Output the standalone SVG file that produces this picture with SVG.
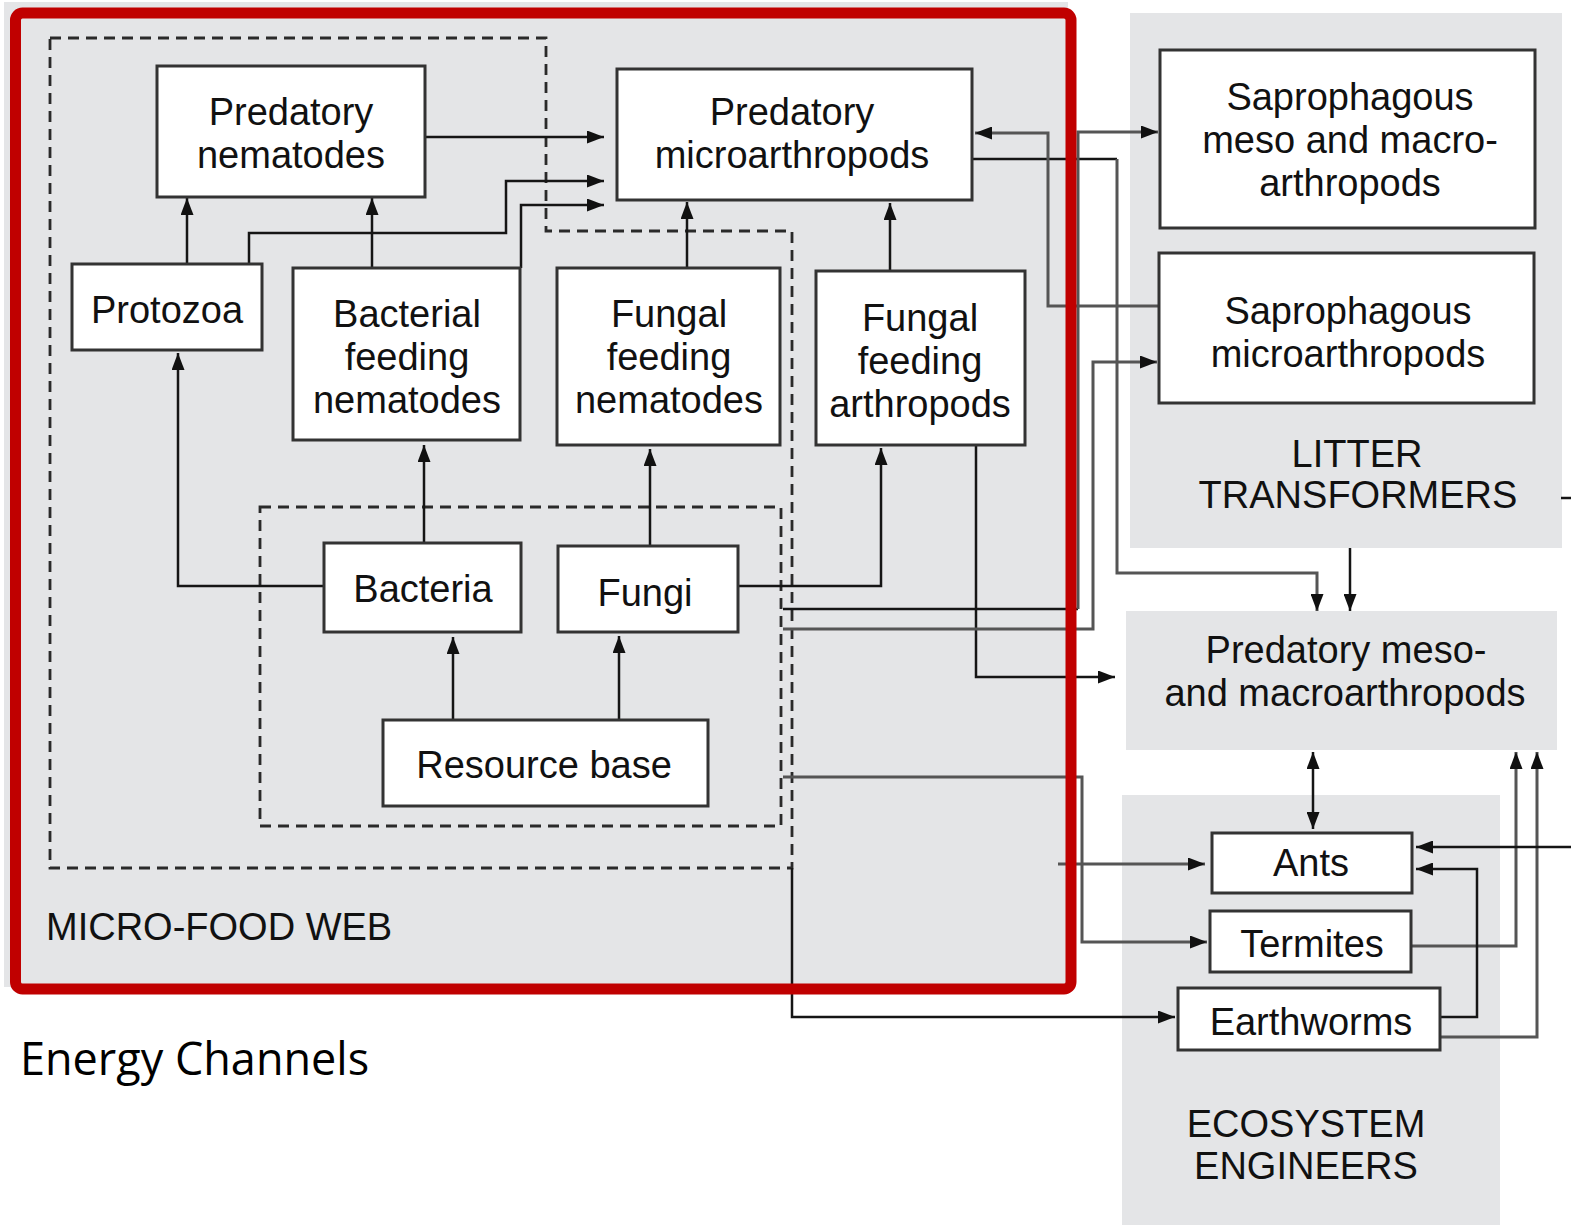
<svg xmlns="http://www.w3.org/2000/svg" width="1571" height="1225" viewBox="0 0 1571 1225">
<style>
.panel{fill:#e4e5e7;stroke:none}
.box{fill:#ffffff;stroke:#333;stroke-width:3}
.t{font-family:"Liberation Sans",Arial,sans-serif;font-size:38px;fill:#111;text-anchor:middle}
.lbl{font-family:"Liberation Sans",Arial,sans-serif;font-size:38px;fill:#111}
.dash{fill:none;stroke:#2a2a2a;stroke-width:2.8;stroke-dasharray:11 7}
.c{fill:none;stroke:#151515;stroke-width:2.5}
.g{fill:none;stroke:#555;stroke-width:3}
</style>
<defs>
<marker id="ah" markerWidth="17" markerHeight="13" refX="17" refY="6.5" orient="auto-start-reverse" markerUnits="userSpaceOnUse">
<path d="M0,0 L17,6.5 L0,13 z" fill="#111"/>
</marker>
</defs>
<rect width="1571" height="1225" fill="#ffffff"/>
<!-- panels -->
<rect class="panel" x="4" y="2" width="1064" height="985"/>
<g id="litter-transformers">
<rect class="panel" x="1130" y="13" width="432" height="535"/>
<text class="t" x="1357" y="467">LITTER</text>
<text class="t" x="1358" y="508">TRANSFORMERS</text>
</g>
<g id="ecosystem-engineers">
<rect class="panel" x="1122" y="795" width="378" height="430"/>
<text class="t" x="1306" y="1137">ECOSYSTEM</text>
<text class="t" x="1306" y="1179">ENGINEERS</text>
</g>
<g id="predatory-meso-macro">
<rect class="panel" x="1126" y="611" width="431" height="139"/>
<text class="t" x="1346" y="663">Predatory meso-</text>
<text class="t" x="1345" y="706">and macroarthropods</text>
</g>
<!-- dashed groupings -->
<g id="groupings">
<path class="dash" d="M50,38 H546 V231 H792 V868 H50 Z"/>
<rect class="dash" x="260" y="507" width="521" height="319"/>
</g>
<!-- connectors -->
<g id="connectors">
<path class="c" d="M425,137 H604" marker-end="url(#ah)"/>
<path class="c" d="M249,264 V233 H506 V181 H604" marker-end="url(#ah)"/>
<path class="c" d="M521,268 V205 H604" marker-end="url(#ah)"/>
<path class="c" d="M187,264 V198" marker-end="url(#ah)"/>
<path class="c" d="M372,268 V198" marker-end="url(#ah)"/>
<path class="c" d="M324,586 H178 V353" marker-end="url(#ah)"/>
<path class="c" d="M424,543 V445" marker-end="url(#ah)"/>
<path class="c" d="M650,546 V449" marker-end="url(#ah)"/>
<path class="c" d="M453,720 V637" marker-end="url(#ah)"/>
<path class="c" d="M619,720 V636" marker-end="url(#ah)"/>
<path class="c" d="M739,586 H881 V448" marker-end="url(#ah)"/>
<path class="c" d="M687,268 V202" marker-end="url(#ah)"/>
<path class="c" d="M890,271 V203" marker-end="url(#ah)"/>
<path class="c" d="M976,446 V677 H1115" marker-end="url(#ah)"/>
<path class="c" d="M973,159 H1117"/>
<path class="g" d="M1117,159 V573 H1317 V611" marker-end="url(#ah)"/>
<path class="g" d="M1160,306 H1048 V133 H975" marker-end="url(#ah)"/>
<path class="c" d="M783,609 H1078"/>
<path class="g" d="M1078,609 V132 H1158" marker-end="url(#ah)"/>
<path class="g" d="M783,629 H1093 V362 H1157" marker-end="url(#ah)"/>
<path class="c" d="M1350,548 V611" marker-end="url(#ah)"/>
<path class="c" d="M1561,498 H1571"/>
<path class="g" d="M783,777 H1082 V942 H1207" marker-end="url(#ah)"/>
<path class="g" d="M1058,864 H1205" marker-end="url(#ah)"/>
<path class="c" d="M792,868 V1017 H1175" marker-end="url(#ah)"/>
<path class="c" d="M1313,752 V829" marker-start="url(#ah)" marker-end="url(#ah)"/>
<path class="g" d="M1412,946 H1516 V752" marker-end="url(#ah)"/>
<path class="g" d="M1441,1037 H1537 V752" marker-end="url(#ah)"/>
<path class="c" d="M1441,1017 H1477 V869 H1416" marker-end="url(#ah)"/>
<path class="c" d="M1571,847 H1416" marker-end="url(#ah)"/>
</g>
<!-- nodes -->
<g id="predatory-nematodes">
<rect class="box" x="157" y="66" width="268" height="131"/>
<text class="t" x="291" y="125">Predatory</text>
<text class="t" x="291" y="168">nematodes</text>
</g>
<g id="predatory-microarthropods">
<rect class="box" x="617" y="69" width="355" height="131"/>
<text class="t" x="792" y="125">Predatory</text>
<text class="t" x="792" y="168">microarthropods</text>
</g>
<g id="protozoa">
<rect class="box" x="72" y="264" width="190" height="86"/>
<text class="t" x="167" y="323">Protozoa</text>
</g>
<g id="bacterial-feeding-nematodes">
<rect class="box" x="293" y="268" width="227" height="172"/>
<text class="t" x="407" y="327">Bacterial</text>
<text class="t" x="407" y="370">feeding</text>
<text class="t" x="407" y="413">nematodes</text>
</g>
<g id="fungal-feeding-nematodes">
<rect class="box" x="557" y="268" width="223" height="177"/>
<text class="t" x="669" y="327">Fungal</text>
<text class="t" x="669" y="370">feeding</text>
<text class="t" x="669" y="413">nematodes</text>
</g>
<g id="fungal-feeding-arthropods">
<rect class="box" x="816" y="271" width="209" height="174"/>
<text class="t" x="920" y="331">Fungal</text>
<text class="t" x="920" y="374">feeding</text>
<text class="t" x="920" y="417">arthropods</text>
</g>
<g id="bacteria">
<rect class="box" x="324" y="543" width="197" height="89"/>
<text class="t" x="423" y="602">Bacteria</text>
</g>
<g id="fungi">
<rect class="box" x="558" y="546" width="180" height="86"/>
<text class="t" x="645" y="606">Fungi</text>
</g>
<g id="resource-base">
<rect class="box" x="383" y="720" width="325" height="86"/>
<text class="t" x="544" y="778">Resource base</text>
</g>
<g id="saprophagous-meso-macro">
<rect class="box" x="1160" y="50" width="375" height="178"/>
<text class="t" x="1350" y="110">Saprophagous</text>
<text class="t" x="1350" y="153">meso and macro-</text>
<text class="t" x="1350" y="196">arthropods</text>
</g>
<g id="saprophagous-microarthropods">
<rect class="box" x="1159" y="253" width="375" height="150"/>
<text class="t" x="1348" y="324">Saprophagous</text>
<text class="t" x="1348" y="367">microarthropods</text>
</g>
<g id="ants">
<rect class="box" x="1212" y="833" width="200" height="60"/>
<text class="t" x="1311" y="876">Ants</text>
</g>
<g id="termites">
<rect class="box" x="1210" y="911" width="201" height="61"/>
<text class="t" x="1312" y="957">Termites</text>
</g>
<g id="earthworms">
<rect class="box" x="1178" y="988" width="262" height="62"/>
<text class="t" x="1311" y="1035">Earthworms</text>
</g>
<!-- micro-food web label and red frame -->
<g id="micro-food-web">
<text class="lbl" x="46" y="940">MICRO-FOOD WEB</text>
<rect x="15.5" y="13" width="1055.5" height="976" rx="7" fill="none" stroke="#c00000" stroke-width="11"/>
</g>
<text x="20" y="1075" font-family="'Open Sans','Noto Sans',sans-serif" font-size="45" fill="#000">Energy Channels</text>
</svg>
